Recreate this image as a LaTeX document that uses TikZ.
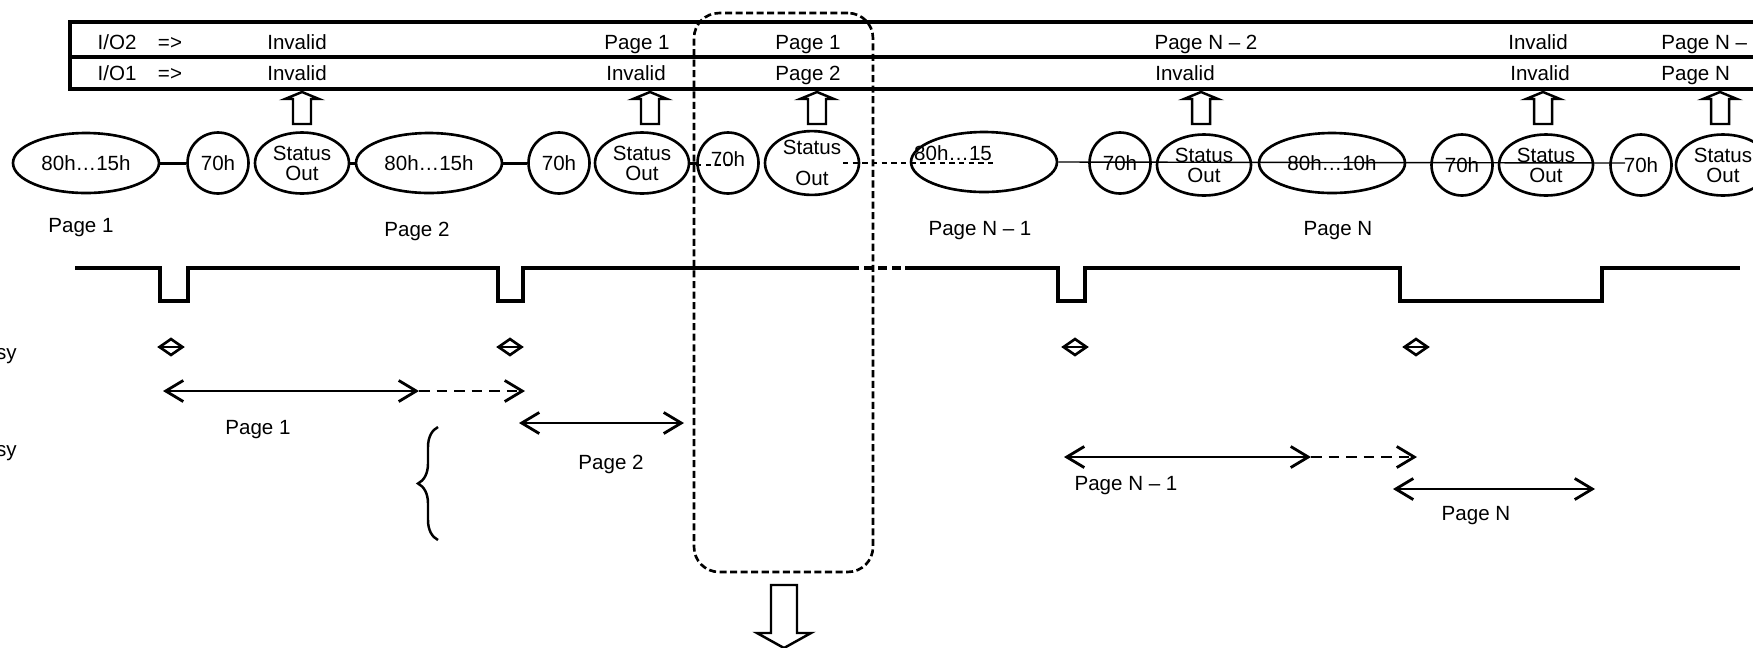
\documentclass[tikz,border=0pt]{standalone}
\usepackage{fontspec}
\setmainfont{Liberation Sans}
\usetikzlibrary{shapes.geometric,arrows.meta,decorations.pathreplacing}

\tikzset{
  cmd/.style={draw, ellipse, line width=1.5pt, minimum width=2.92cm, minimum height=1.2cm, inner sep=0pt},
  wt/.style={draw, circle, line width=1.5pt, minimum size=1.22cm, inner sep=0pt},
  stat/.style={draw, ellipse, line width=1.5pt, minimum width=1.88cm, minimum height=1.22cm, inner sep=0pt, align=center},
  txt/.style={inner sep=0pt, text height=8.4pt, text depth=0pt},
  tick/.style={draw, diamond, line width=1.5pt, minimum width=0.48cm, minimum height=0.34cm, inner sep=0pt},
  span/.style={line width=1.6pt, {Straight Barb[length=10pt,width=12pt]}-{Straight Barb[length=10pt,width=12pt]}},
  tail/.style={line width=1.6pt, dash pattern=on 6pt off 4pt, -{Straight Barb[length=10pt,width=12pt]}},
  blk/.style={line width=1.4pt, line join=miter},
  link/.style={line width=1.7pt},
  thinlink/.style={line width=0.8pt},
}

\begin{document}
\begin{tikzpicture}[x=0.02cm, y=-0.02cm, font=\fontsize{11.7}{11.4}\selectfont]
\useasboundingbox (0,0) rectangle (1753,647);
\clip (0,0) rectangle (1753,647);

% Output table
\draw[line width=2pt] (1760,22) -- (70,22) -- (70,89) -- (1760,89);
\draw[line width=2pt] (70,57) -- (1760,57);

\node[txt] (io2) at (117,42) {I/O2};
\node[txt] (io2a) at (170,42) {=>};
\node[txt] (io2b) at (297,42) {Invalid};
\node[txt] (io2c) at (637,42) {Page 1};
\node[txt] (io2d) at (808,42) {Page 1};
\node[txt] (io2e) at (1206,42) {Page N -- 2};
\node[txt] (io2f) at (1538,42) {Invalid};
\node[txt, anchor=west] (io2g) at (1661,42) {Page N --};

\node[txt] (io1) at (117,73) {I/O1};
\node[txt] (io1a) at (170,73) {=>};
\node[txt] (io1b) at (297,73) {Invalid};
\node[txt] (io1c) at (636,73) {Invalid};
\node[txt] (io1d) at (808,73) {Page 2};
\node[txt] (io1e) at (1185,73) {Invalid};
\node[txt] (io1f) at (1540,73) {Invalid};
\node[txt, anchor=west] (io1g) at (1661,73) {Page N};

% Block arrows up to the table
\foreach \x in {302,650,817,1201,1543,1720}
  \draw[blk] (\x-9,124) -- (\x-9,99) -- (\x-17,99) -- (\x,92) -- (\x+17,99) -- (\x+9,99) -- (\x+9,124) -- cycle;

% Command sequence
\node[cmd] (e1) at (86,163) {80h…15h};
\node[wt] (c1) at (218,163) {70h};
\node[stat] (s1) at (302,163) {Status\\Out};
\node[cmd] (e2) at (429,163) {80h…15h};
\node[wt] (c2) at (559,163) {70h};
\node[stat] (s2) at (642,163) {Status\\Out};
\node[wt] (c3) at (728,163) {\raisebox{4pt}{70h}};
\node[stat] (s3) at (812,163) {Status\\[6pt]Out};
\node[cmd] (e3) at (984,162) {};
\node[txt] (e3t) at (953,153) {80h…15};
\node[wt] (c4) at (1120,163) {70h};
\node[stat] (s4) at (1204,165) {Status\\Out};
\node[cmd] (e4) at (1332,163) {80h…10h};
\node[wt] (c5) at (1462,165) {70h};
\node[stat] (s5) at (1546,165) {Status\\Out};
\node[wt] (c6) at (1641,165) {70h};
\node[stat] (s6) at (1723,165) {Status\\Out};

\coordinate (g0) at (732,165);
\coordinate (g1) at (843,163);
\coordinate (g2) at (993,163);
\coordinate (g3) at (1625,163);

\draw[link] (e1) -- (c1);
\draw[link] (s1) -- (e2);
\draw[link] (e2) -- (c2);
\draw[link] (s2) -- (c3);
\draw[thinlink, dash pattern=on 3pt off 2.5pt] (c3.west) ++(0,2) -- (g0);
\draw[thinlink, dash pattern=on 3pt off 2.5pt] (g1) -- (g2);
\draw[thinlink] (e3.east) -- (g3);

% Page labels
\node[txt] (p1) at (81,225) {Page 1};
\node[txt] (p2) at (417,229) {Page 2};
\node[txt] (p3) at (980,228) {Page N -- 1};
\node[txt] (p4) at (1338,228) {Page N};

% Ready/busy waveform
\draw[line width=1.8pt] (75,268) -- (160,268) -- (160,301) -- (188,301) -- (188,268) -- (498,268) -- (498,301) -- (523,301) -- (523,268) -- (850,268);
\draw[line width=1.8pt, dash pattern=on 5pt off 3pt] (850,268) -- (905,268);
\draw[line width=1.8pt] (905,268) -- (1058,268) -- (1058,301) -- (1085,301) -- (1085,268) -- (1400,268) -- (1400,301) -- (1602,301) -- (1602,268) -- (1740,268);

\node[txt, anchor=east] (rb1) at (17,352) {sy};
\node[txt, anchor=east] (rb2) at (17,449) {sy};

% Markers
\node[tick] (d1) at (171,347) {};
\node[tick] (d2) at (510,347) {};
\node[tick] (d3) at (1075,347) {};
\node[tick] (d4) at (1416,347) {};
\foreach \d in {d1,d2,d3,d4}
  \draw[line width=1pt] (\d.west) -- (\d.east);

% Page spans
\coordinate (a1) at (163,391);
\coordinate (a2) at (419,391);
\coordinate (a3) at (525,391);
\draw[span] (a1) -- (a2);
\draw[tail] (a2) -- (a3);
\node[txt] (t1) at (258,427) {Page 1};

\coordinate (b1) at (438,540);
\coordinate (b2) at (438,427);
\draw[line width=1.4pt, decorate, decoration={brace, amplitude=0.4cm}] (b1) -- (b2);

\coordinate (a4) at (519,423);
\coordinate (a5) at (684,423);
\draw[span] (a4) -- (a5);
\node[txt] (t2) at (611,462) {Page 2};

\coordinate (a6) at (1064,457);
\coordinate (a7) at (1311,457);
\coordinate (a8) at (1417,457);
\draw[span] (a6) -- (a7);
\draw[tail] (a7) -- (a8);
\node[txt] (t3) at (1126,483) {Page N -- 1};

\coordinate (a9) at (1393,489);
\coordinate (a10) at (1595,489);
\draw[span] (a9) -- (a10);
\node[txt] (t4) at (1476,513) {Page N};

% Selected window
\node[draw, line width=1.5pt, dash pattern=on 4pt off 2pt, rounded corners=0.5cm, minimum width=3.58cm, minimum height=11.18cm, inner sep=0pt] (sel) at (783.5,292.5) {};
\draw[blk] (771,585) -- (797,585) -- (797,633) -- (811,633) -- (784,648) -- (757,633) -- (771,633) -- cycle;
\end{tikzpicture}
\end{document}
